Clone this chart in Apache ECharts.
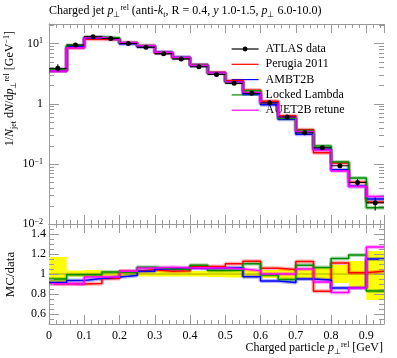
<!DOCTYPE html>
<html><head><meta charset="utf-8">
<script src="https://cdn.jsdelivr.net/npm/echarts@6/dist/echarts.min.js"></script>
<style>html,body{margin:0;padding:0;background:#fff}#c{width:397px;height:358px}</style>
</head><body><div id="c"></div>
<script>
// ---- data ----
const binEdges = [0,0.05,0.1,0.15,0.2,0.25,0.3,0.35,0.4,0.45,0.5,0.55,0.6,0.65,0.7,0.75,0.8,0.85,0.9,0.95];
const atlasData = [3.85,9.4,12.9,12.1,10.0,8.6,6.7,5.5,4.08,3.05,2.17,1.48,1.03,0.60,0.327,0.185,0.0927,0.049,0.0225];
const dataRelLo = [0.90,0.975,0.975,0.98,0.98,0.975,0.975,0.975,0.975,0.97,0.965,0.965,0.96,0.95,0.95,0.94,0.91,0.86,0.74];
const dataRelHi = [1.17,1.035,1.04,1.025,1.025,1.03,1.03,1.03,1.03,1.035,1.035,1.04,1.04,1.05,1.06,1.06,1.09,1.13,1.23];
const perugia2011 = [3.47,8.46,11.67,11.56,10.27,8.97,6.88,5.68,4.39,3.29,2.39,1.67,1.09,0.627,0.368,0.153,0.103,0.0496,0.0231];
const ambt2b = [3.52,8.79,12.32,11.74,9.85,8.83,7.04,5.83,4.30,3.23,2.30,1.44,0.958,0.549,0.311,0.174,0.0797,0.0424,0.0259];
const lockedLambda = [3.66,9.33,12.81,12.34,10.15,9.18,7.04,5.75,4.44,3.16,2.25,1.63,1.02,0.567,0.356,0.197,0.107,0.0583,0.0187];
const auet2bRetune = [3.47,8.46,12.51,11.74,10.27,9.12,7.15,5.83,4.33,3.23,2.28,1.53,1.03,0.60,0.343,0.170,0.0756,0.0421,0.0286];
const seriesNames = ['ATLAS data','Perugia 2011','AMBT2B','Locked Lambda','AUET2B retune'];
const xTickLabels = [0,0.1,0.2,0.3,0.4,0.5,0.6,0.7,0.8,0.9];
const logTickLabels = [0.01,0.1,1,10];
const ratioTickLabels = [0.6,0.8,1,1.2,1.4];

// ---- styling ----
const FONT = 'Liberation Serif';
const AX = '#9a9a9a';
const mcList = [
  {name: seriesNames[1], vals: perugia2011, color: '#ff0000'},
  {name: seriesNames[2], vals: ambt2b, color: '#0000ff'},
  {name: seriesNames[3], vals: lockedLambda, color: '#008a00'},
  {name: seriesNames[4], vals: auet2bRetune, color: '#ff00ff'}
];
const XMAX = binEdges[binEdges.length - 1];
const nb = atlasData.length;
const centers = atlasData.map((v, i) => (binEdges[i] + binEdges[i + 1]) / 2);
function stepData(vals) {
  const d = vals.map((v, i) => [binEdges[i], v]);
  d.push([binEdges[nb], vals[nb - 1]]);
  return d;
}
const richBase = {
  n: {fontFamily: FONT, fontSize: 12, lineHeight: 15, color: '#000'},
  i: {fontFamily: FONT, fontSize: 12, fontStyle: 'italic', lineHeight: 15, color: '#000'},
  sup: {fontFamily: FONT, fontSize: 8, verticalAlign: 'top', color: '#000'},
  sub: {fontFamily: FONT, fontSize: 8, verticalAlign: 'bottom', color: '#000'}
};

function tickSeries(xIdx, yIdx, ticks) {
  return {
    type: 'custom', xAxisIndex: xIdx, yAxisIndex: yIdx, silent: true, clip: false, z: 6,
    data: ticks.map(t => [0, t[0], t[1]]), encode: {x: 0, y: 1},
    renderItem(params, api) {
      const v = api.value(1), len = api.value(2);
      const L = api.coord([0, v]), R = api.coord([XMAX, v]);
      const y = Math.round(L[1]) + 0.5;
      return {type: 'group', children: [
        {type: 'line', shape: {x1: L[0], y1: y, x2: L[0] + len, y2: y}, style: {stroke: AX, lineWidth: 1}},
        {type: 'line', shape: {x1: R[0] - len, y1: y, x2: R[0], y2: y}, style: {stroke: AX, lineWidth: 1}}
      ]};
    }
  };
}
const logTicks = [];
for (let k = -2; k <= 1; k++) {
  for (let m = 1; m <= 9; m++) {
    const v = m * Math.pow(10, k);
    if (v <= 21 && !(m === 1 && k === -2)) logTicks.push([v, m === 1 ? 10 : 5]);
  }
}
const ratioTicks = [];
for (let j = 11; j <= 29; j++) {
  const v = j * 0.05;
  ratioTicks.push([v, (j % 4 === 0) ? 10 : 5]);
}

function xAxisDef(grid, pos, labels) {
  return {
    gridIndex: grid, type: 'value', min: 0, max: XMAX, interval: 0.1, position: pos,
    axisLine: {onZero: false, lineStyle: {color: AX, width: 1}},
    axisTick: {inside: true, length: 9, lineStyle: {color: AX}},
    minorTick: {show: true, splitNumber: 5, length: 4, lineStyle: {color: AX}},
    splitLine: {show: false},
    axisLabel: labels ? {
      show: true, margin: 6, fontFamily: FONT, fontSize: 12, color: '#000',
      formatter: v => xTickLabels.some(t => Math.abs(t - v) < 1e-6) ? String(+v.toFixed(1)) : ''
    } : {show: false}
  };
}
function yLogDef(pos, labels) {
  return {
    gridIndex: 0, type: 'log', min: 0.01, max: 21, position: pos,
    axisLine: {lineStyle: {color: AX}}, axisTick: {show: false}, splitLine: {show: false},
    axisLabel: labels ? {
      show: true, margin: 6, color: '#000',
      formatter: v => {
        if (!logTickLabels.some(t => Math.abs(t - v) / t < 1e-6)) return '';
        const e = Math.round(Math.log10(v));
        if (e === 0) return '{b|1}';
        return '{b|10}{s|' + (e < 0 ? '\u2212' : '') + Math.abs(e) + '}';
      },
      rich: {b: {fontFamily: FONT, fontSize: 12, color: '#000'}, s: {fontFamily: FONT, fontSize: 8, verticalAlign: 'top', color: '#000'}}
    } : {show: false}
  };
}
function yRatioDef(pos, labels) {
  return {
    gridIndex: 1, type: 'value', min: 0.5, max: 1.5, interval: 0.1, position: pos,
    axisLine: {onZero: false, lineStyle: {color: AX}}, axisTick: {show: false}, splitLine: {show: false},
    axisLabel: labels ? {
      show: true, margin: 3, fontFamily: FONT, fontSize: 12, color: '#000',
      formatter: v => ratioTickLabels.some(t => Math.abs(t - v) < 1e-6) ? String(+v.toFixed(1)) : ''
    } : {show: false}
  };
}

const series = [];
// ratio: data uncertainty band
series.push({
  type: 'custom', xAxisIndex: 2, yAxisIndex: 2, silent: true, z: 1,
  data: atlasData.map((v, i) => [binEdges[i], binEdges[i + 1], dataRelLo[i], dataRelHi[i]]),
  encode: {x: [0, 1], y: [2, 3]},
  renderItem(params, api) {
    const p1 = api.coord([api.value(0), api.value(3)]);
    const p2 = api.coord([api.value(1), api.value(2)]);
    return {type: 'rect', shape: {x: p1[0], y: p1[1], width: p2[0] - p1[0], height: p2[1] - p1[1]}, style: {fill: '#ffff00'}};
  }
});
// ratio: data line at 1
series.push({
  type: 'line', xAxisIndex: 2, yAxisIndex: 2, step: 'end', symbol: 'none', silent: true, z: 2,
  data: stepData(atlasData.map(v => v / v)), lineStyle: {color: 'rgba(0,0,0,0.35)', width: 1}
});
// MC lines
mcList.forEach(mc => {
  const ratio = mc.vals.map((v, i) => v / atlasData[i]);
  series.push({type: 'line', xAxisIndex: 0, yAxisIndex: 0, step: 'end', symbol: 'none', silent: true, z: 2,
    data: stepData(mc.vals), lineStyle: {color: mc.color, width: 4, opacity: 0.3}});
  series.push({type: 'line', name: mc.name, xAxisIndex: 0, yAxisIndex: 0, step: 'end', symbol: 'none', z: 3,
    data: stepData(mc.vals), lineStyle: {color: mc.color, width: 1.5}, itemStyle: {color: mc.color}});
  series.push({type: 'line', xAxisIndex: 2, yAxisIndex: 2, step: 'end', symbol: 'none', silent: true, z: 2,
    data: stepData(ratio), lineStyle: {color: mc.color, width: 4, opacity: 0.3}});
  series.push({type: 'line', xAxisIndex: 2, yAxisIndex: 2, step: 'end', symbol: 'none', silent: true, z: 3,
    data: stepData(ratio), lineStyle: {color: mc.color, width: 1.5}});
});
// data error bars
series.push({
  type: 'custom', xAxisIndex: 0, yAxisIndex: 0, silent: true, z: 4,
  data: atlasData.map((v, i) => [binEdges[i], binEdges[i + 1], v, v * dataRelLo[i], v * dataRelHi[i]]),
  encode: {x: [0, 1], y: [2, 3, 4]},
  renderItem(params, api) {
    const a = api.coord([api.value(0), api.value(2)]);
    const b = api.coord([api.value(1), api.value(2)]);
    const xc = (api.value(0) + api.value(1)) / 2;
    const lo = api.coord([xc, api.value(3)]);
    const hi = api.coord([xc, api.value(4)]);
    return {type: 'group', children: [
      {type: 'line', shape: {x1: a[0], y1: a[1], x2: b[0], y2: b[1]}, style: {stroke: '#000', lineWidth: 1}},
      {type: 'line', shape: {x1: lo[0], y1: lo[1], x2: hi[0], y2: hi[1]}, style: {stroke: '#000', lineWidth: 1}}
    ]};
  }
});
// data points
series.push({
  type: 'line', name: seriesNames[0], xAxisIndex: 0, yAxisIndex: 0, z: 5,
  data: atlasData.map((v, i) => [centers[i], v]),
  symbol: 'circle', symbolSize: 5, showSymbol: true,
  lineStyle: {opacity: 0, width: 0}, itemStyle: {color: '#000'}
});
// ticks
series.push(tickSeries(0, 0, logTicks));
series.push(tickSeries(2, 2, ratioTicks));

const option = {
  animation: false,
  backgroundColor: '#fff',
  grid: [
    {left: 49, top: 24, width: 335, height: 200},
    {left: 49, top: 224, width: 335, height: 100}
  ],
  xAxis: [xAxisDef(0, 'bottom', false), xAxisDef(0, 'top', false), xAxisDef(1, 'bottom', true), xAxisDef(1, 'top', false)],
  yAxis: [yLogDef('left', true), yLogDef('right', false), yRatioDef('left', true), yRatioDef('right', false)],
  legend: {
    orient: 'vertical', left: 226, top: 37, z: 1,
    itemWidth: 27, itemHeight: 6, itemGap: 1.3,
    textStyle: {fontFamily: FONT, fontSize: 12, lineHeight: 14, color: '#000', padding: [0, 0, 0, 2]},
    data: [
      {name: seriesNames[0], lineStyle: {opacity: 1, width: 1.2, color: '#000'}, itemStyle: {color: '#000', opacity: 1}},
      {name: seriesNames[1], itemStyle: {opacity: 0}, lineStyle: {width: 1.2}},
      {name: seriesNames[2], itemStyle: {opacity: 0}, lineStyle: {width: 1.2}},
      {name: seriesNames[3], itemStyle: {opacity: 0}, lineStyle: {width: 1.2}},
      {name: seriesNames[4], itemStyle: {opacity: 0}, lineStyle: {width: 1.2}}
    ]
  },
  graphic: [
    {type: 'text', x: 49, y: 11, z: 10, style: {
      text: '{n|Charged jet }{i|p}{sub|\u22a5}{sup|rel}{n| (anti-}{i|k}{sub|t}{n|, R = 0.4, }{i|y}{n| 1.0-1.5, }{i|p}{sub|\u22a5}{n| 6.0-10.0)}',
      rich: richBase, align: 'left', verticalAlign: 'middle'}},
    {type: 'text', x: 10, y: 31, rotation: Math.PI / 2, z: 10, style: {
      text: '{n|1/}{i|N}{sub|jet}{n| d}{i|N}{n|/d}{i|p}{sub|\u22a5}{sup|rel}{n| [GeV}{sup|\u22121}{n|]}',
      rich: richBase, align: 'right', verticalAlign: 'middle'}},
    {type: 'text', x: 11, y: 274.5, rotation: Math.PI / 2, z: 10, style: {
      text: 'MC/data', fontFamily: FONT, fontSize: 13, fill: '#000', align: 'center', verticalAlign: 'middle'}},
    {type: 'text', x: 383, y: 348, z: 10, style: {
      text: '{n|Charged particle }{i|p}{sub|\u22a5}{sup|rel}{n| [GeV]}',
      rich: richBase, align: 'right', verticalAlign: 'middle'}}
  ],
  series: series
};
const chart = echarts.init(document.getElementById('c'), null, {renderer: 'canvas'});
chart.setOption(option);
</script>
</body></html>
